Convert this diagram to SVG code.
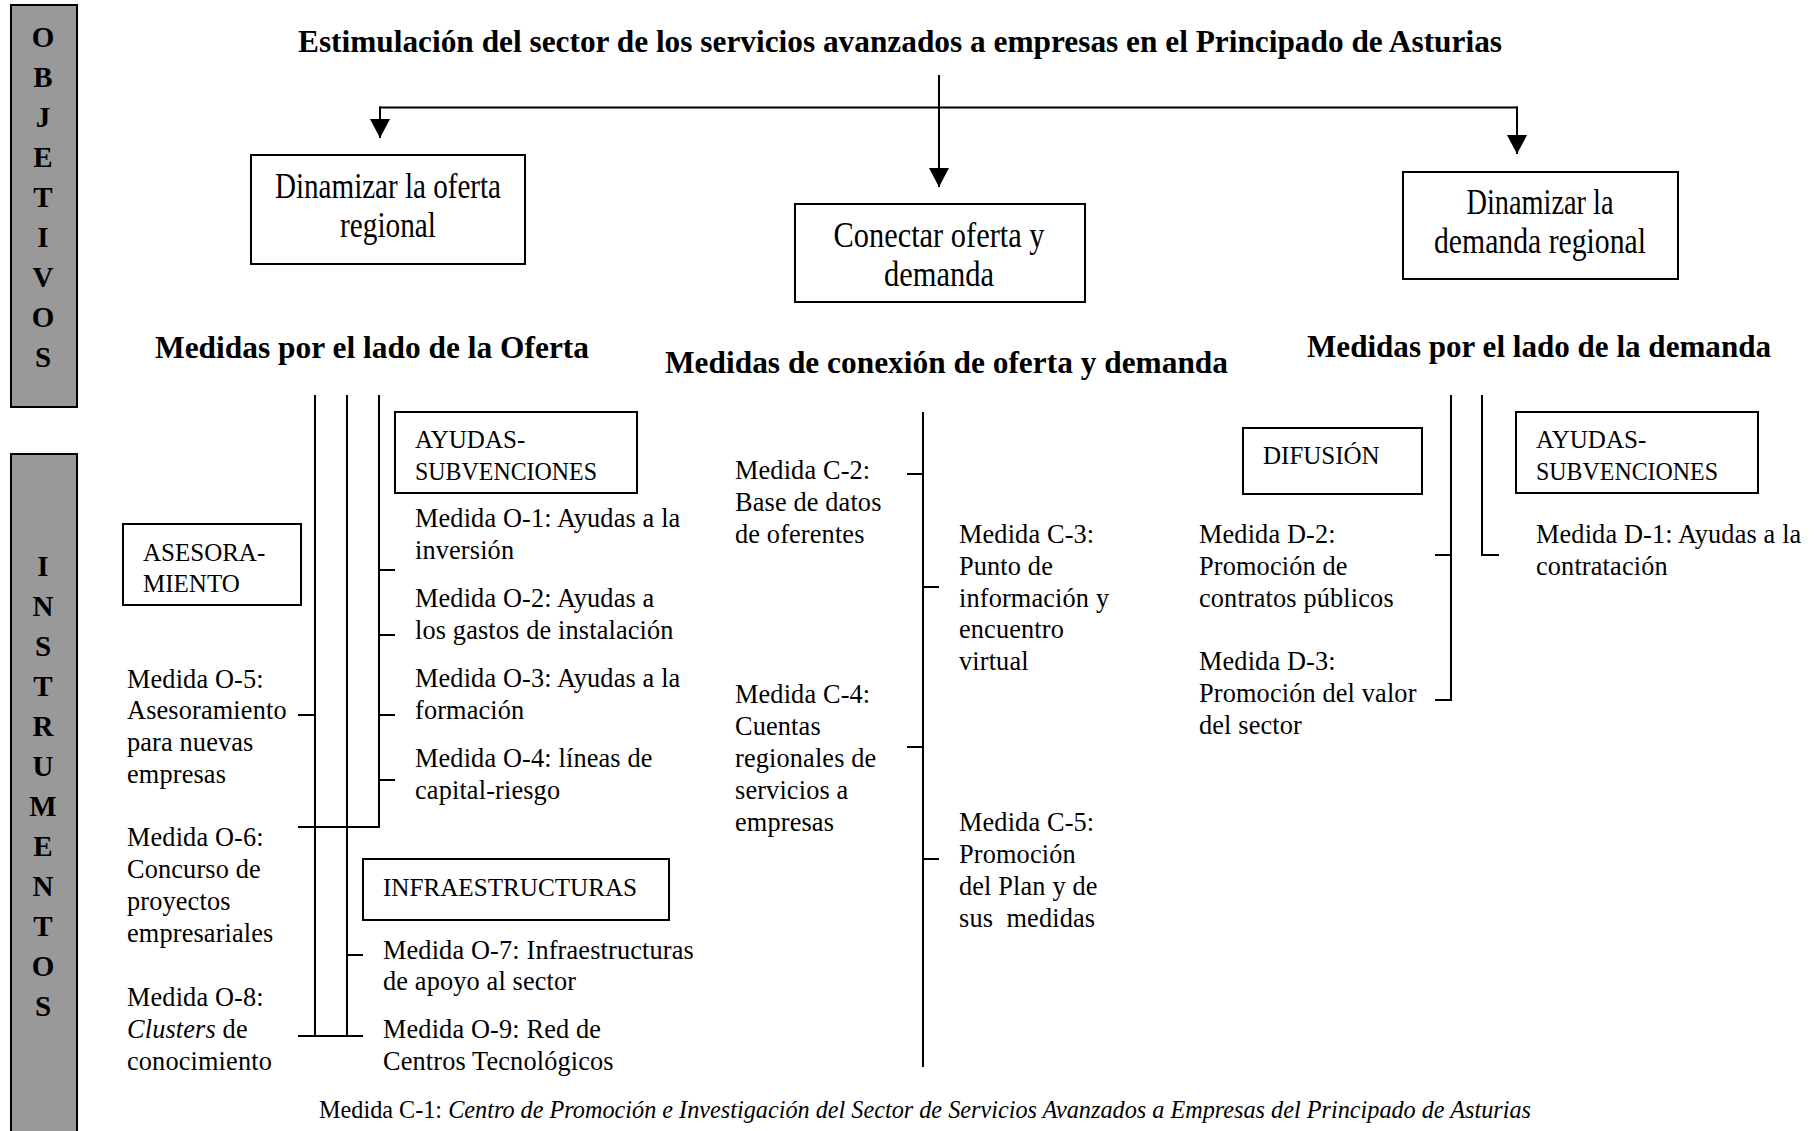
<svg xmlns="http://www.w3.org/2000/svg" width="1814" height="1131" viewBox="0 0 1814 1131">
<style>
text { font-family: "Liberation Serif", "Times New Roman", serif; fill: #000; }
.b { font-weight: bold; font-size: 31px; }
.v { font-weight: bold; font-size: 29px; text-anchor: middle; }
.obj { font-size: 35px; text-anchor: middle; }
.cap { font-size: 25px; }
.m { font-size: 26.3px; letter-spacing: 0.15px; }
.box { fill: #fff; stroke: #000; stroke-width: 2; }
.gray { fill: #999; stroke: #000; stroke-width: 2; }
.ln { stroke: #000; stroke-width: 2; fill: none; }
</style>
<defs>
<marker id="ah" markerUnits="userSpaceOnUse" markerWidth="20" markerHeight="20" refX="19" refY="10" orient="auto">
<path d="M0,0 L19,10 L0,20 z" fill="#000"/>
</marker>
</defs>
<rect width="1814" height="1131" fill="#fff"/>

<g id="objetivos-label">
<rect class="gray" x="11" y="5" width="66" height="402"/>
<text class="v" x="43" y="47">O</text>
<text class="v" x="43" y="87">B</text>
<text class="v" x="43" y="127">J</text>
<text class="v" x="43" y="167">E</text>
<text class="v" x="43" y="207">T</text>
<text class="v" x="43" y="247">I</text>
<text class="v" x="43" y="287">V</text>
<text class="v" x="43" y="327">O</text>
<text class="v" x="43" y="367">S</text>
</g>

<g id="instrumentos-label">
<rect class="gray" x="11" y="454" width="66" height="690"/>
<text class="v" x="43" y="576">I</text>
<text class="v" x="43" y="616">N</text>
<text class="v" x="43" y="656">S</text>
<text class="v" x="43" y="696">T</text>
<text class="v" x="43" y="736">R</text>
<text class="v" x="43" y="776">U</text>
<text class="v" x="43" y="816">M</text>
<text class="v" x="43" y="856">E</text>
<text class="v" x="43" y="896">N</text>
<text class="v" x="43" y="936">T</text>
<text class="v" x="43" y="976">O</text>
<text class="v" x="43" y="1016">S</text>
</g>

<g id="title">
<text class="b" x="298" y="52" textLength="1204" lengthAdjust="spacingAndGlyphs">Estimulación del sector de los servicios avanzados a empresas en el Principado de Asturias</text>
</g>

<g id="connectors">
<line class="ln" x1="939" y1="75" x2="939" y2="187" marker-end="url(#ah)"/>
<line class="ln" x1="379" y1="107.5" x2="1518" y2="107.5"/>
<line class="ln" x1="380" y1="106.5" x2="380" y2="138" marker-end="url(#ah)"/>
<line class="ln" x1="1517" y1="106.5" x2="1517" y2="154" marker-end="url(#ah)"/>

<line class="ln" x1="315" y1="395" x2="315" y2="1036"/>
<line class="ln" x1="347" y1="395" x2="347" y2="1036"/>
<polyline class="ln" points="379,395 379,827 298,827"/>
<line class="ln" x1="379" y1="570" x2="395" y2="570"/>
<line class="ln" x1="379" y1="635" x2="395" y2="635"/>
<line class="ln" x1="379" y1="715" x2="395" y2="715"/>
<line class="ln" x1="379" y1="780" x2="395" y2="780"/>
<line class="ln" x1="298" y1="715" x2="315" y2="715"/>
<line class="ln" x1="347" y1="955" x2="363" y2="955"/>
<line class="ln" x1="298" y1="1036" x2="363" y2="1036"/>

<line class="ln" x1="923" y1="412" x2="923" y2="1067"/>
<line class="ln" x1="907" y1="474" x2="923" y2="474"/>
<line class="ln" x1="923" y1="587" x2="939" y2="587"/>
<line class="ln" x1="907" y1="747" x2="923" y2="747"/>
<line class="ln" x1="923" y1="859" x2="939" y2="859"/>

<polyline class="ln" points="1451,395 1451,700 1435,700"/>
<line class="ln" x1="1435" y1="555" x2="1451" y2="555"/>
<polyline class="ln" points="1482,395 1482,555 1499,555"/>
</g>

<g id="obj-oferta">
<rect class="box" x="251" y="155" width="274" height="109"/>
<text class="obj" x="388" y="198" textLength="226" lengthAdjust="spacingAndGlyphs">Dinamizar la oferta</text>
<text class="obj" x="388" y="237" textLength="96" lengthAdjust="spacingAndGlyphs">regional</text>
</g>

<g id="obj-conectar">
<rect class="box" x="795" y="204" width="290" height="98"/>
<text class="obj" x="939" y="247" textLength="211" lengthAdjust="spacingAndGlyphs">Conectar oferta y</text>
<text class="obj" x="939" y="286" textLength="110" lengthAdjust="spacingAndGlyphs">demanda</text>
</g>

<g id="obj-demanda">
<rect class="box" x="1403" y="172" width="275" height="107"/>
<text class="obj" x="1540" y="214" textLength="147" lengthAdjust="spacingAndGlyphs">Dinamizar la</text>
<text class="obj" x="1540" y="253" textLength="212" lengthAdjust="spacingAndGlyphs">demanda regional</text>
</g>

<g id="hdr-oferta">
<text class="b" x="155" y="358" textLength="434" lengthAdjust="spacingAndGlyphs">Medidas por el lado de la Oferta</text>
</g>
<g id="hdr-conexion">
<text class="b" x="665" y="373" textLength="563" lengthAdjust="spacingAndGlyphs">Medidas de conexión de oferta y demanda</text>
</g>
<g id="hdr-demanda">
<text class="b" x="1307" y="357" textLength="464" lengthAdjust="spacingAndGlyphs">Medidas por el lado de la demanda</text>
</g>

<g id="box-ayudas-o">
<rect class="box" x="395" y="412" width="242" height="81"/>
<text class="cap" x="415" y="448">AYUDAS-</text>
<text class="cap" x="415" y="480" textLength="182" lengthAdjust="spacingAndGlyphs">SUBVENCIONES</text>
</g>

<g id="box-asesoramiento">
<rect class="box" x="123" y="524" width="178" height="81"/>
<text class="cap" x="143" y="561">ASESORA-</text>
<text class="cap" x="143" y="592">MIENTO</text>
</g>

<g id="box-infra">
<rect class="box" x="363" y="859" width="306" height="61"/>
<text class="cap" x="383" y="896" textLength="254" lengthAdjust="spacingAndGlyphs">INFRAESTRUCTURAS</text>
</g>

<g id="box-difusion">
<rect class="box" x="1243" y="428" width="179" height="66"/>
<text class="cap" x="1263" y="464">DIFUSIÓN</text>
</g>

<g id="box-ayudas-d">
<rect class="box" x="1516" y="412" width="242" height="81"/>
<text class="cap" x="1536" y="448">AYUDAS-</text>
<text class="cap" x="1536" y="480" textLength="182" lengthAdjust="spacingAndGlyphs">SUBVENCIONES</text>
</g>

<g id="o1"><text class="m" x="415" y="527">Medida O-1: Ayudas a la</text><text class="m" x="415" y="559">inversión</text></g>
<g id="o2"><text class="m" x="415" y="607">Medida O-2: Ayudas a</text><text class="m" x="415" y="639">los gastos de instalación</text></g>
<g id="o3"><text class="m" x="415" y="687">Medida O-3: Ayudas a la</text><text class="m" x="415" y="719">formación</text></g>
<g id="o4"><text class="m" x="415" y="767">Medida O-4: líneas de</text><text class="m" x="415" y="799">capital-riesgo</text></g>
<g id="o5"><text class="m" x="127" y="688">Medida O-5:</text><text class="m" x="127" y="719">Asesoramiento</text><text class="m" x="127" y="751">para nuevas</text><text class="m" x="127" y="783">empresas</text></g>
<g id="o6"><text class="m" x="127" y="846">Medida O-6:</text><text class="m" x="127" y="878">Concurso de</text><text class="m" x="127" y="910">proyectos</text><text class="m" x="127" y="942">empresariales</text></g>
<g id="o8"><text class="m" x="127" y="1006">Medida O-8:</text><text class="m" x="127" y="1038"><tspan font-style="italic">Clusters</tspan> de</text><text class="m" x="127" y="1070">conocimiento</text></g>
<g id="o7"><text class="m" x="383" y="959">Medida O-7: Infraestructuras</text><text class="m" x="383" y="990">de apoyo al sector</text></g>
<g id="o9"><text class="m" x="383" y="1038">Medida O-9: Red de</text><text class="m" x="383" y="1070">Centros Tecnológicos</text></g>

<g id="c2"><text class="m" x="735" y="479">Medida C-2:</text><text class="m" x="735" y="511">Base de datos</text><text class="m" x="735" y="543">de oferentes</text></g>
<g id="c3"><text class="m" x="959" y="543">Medida C-3:</text><text class="m" x="959" y="575">Punto de</text><text class="m" x="959" y="607">información y</text><text class="m" x="959" y="638">encuentro</text><text class="m" x="959" y="670">virtual</text></g>
<g id="c4"><text class="m" x="735" y="703">Medida C-4:</text><text class="m" x="735" y="735">Cuentas</text><text class="m" x="735" y="767">regionales de</text><text class="m" x="735" y="799">servicios a</text><text class="m" x="735" y="831">empresas</text></g>
<g id="c5"><text class="m" x="959" y="831">Medida C-5:</text><text class="m" x="959" y="863">Promoción</text><text class="m" x="959" y="895">del Plan y de</text><text class="m" x="959" y="927" xml:space="preserve">sus  medidas</text></g>

<g id="d2"><text class="m" x="1199" y="543">Medida D-2:</text><text class="m" x="1199" y="575">Promoción de</text><text class="m" x="1199" y="607">contratos públicos</text></g>
<g id="d3"><text class="m" x="1199" y="670">Medida D-3:</text><text class="m" x="1199" y="702">Promoción del valor</text><text class="m" x="1199" y="734">del sector</text></g>
<g id="d1"><text class="m" x="1536" y="543">Medida D-1: Ayudas a la</text><text class="m" x="1536" y="575">contratación</text></g>

<g id="c1">
<text x="319" y="1118" font-size="25" textLength="1212" lengthAdjust="spacingAndGlyphs">Medida C-1: <tspan font-style="italic">Centro de Promoción e Investigación del Sector de Servicios Avanzados a Empresas del Principado de Asturias</tspan></text>
</g>
</svg>
